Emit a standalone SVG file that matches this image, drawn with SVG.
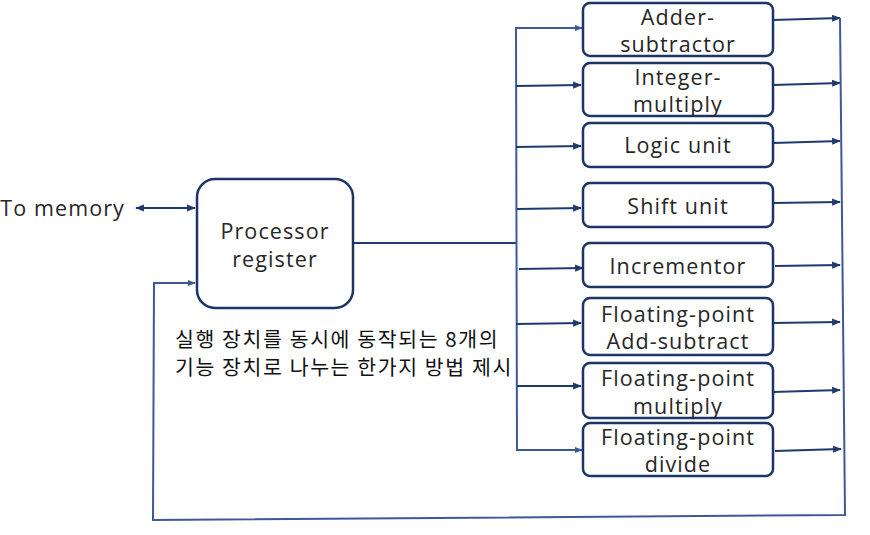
<svg xmlns="http://www.w3.org/2000/svg" width="870" height="535" viewBox="0 0 870 535">
<defs>
<marker id="ah" viewBox="0 0 10 10" refX="9" refY="5" markerWidth="4" markerHeight="4" orient="auto-start-reverse" markerUnits="strokeWidth">
<path d="M0,1 L10,5 L0,9 z" fill="#1f3a6e"/>
</marker>
<marker id="ah2" viewBox="0 0 10 10" refX="9" refY="5" markerWidth="4" markerHeight="4" orient="auto" markerUnits="strokeWidth">
<path d="M0,1 L10,5 L0,9 z" fill="#3b5a98"/>
</marker>
</defs>
<style>
.box{fill:#fff;stroke:#1c3466;stroke-width:2.5}
.t{font-family:"Open Sans","Liberation Sans",sans-serif;font-size:21.5px;letter-spacing:1.1px;fill:#262626;text-anchor:middle}
.c{fill:none;stroke:#1f3a6e;stroke-width:2.2}
.f{fill:none;stroke:#3b5a98;stroke-width:2}
.k{font-family:"Noto Sans CJK KR","Noto Sans",sans-serif;font-size:20.5px;letter-spacing:1.6px;fill:#111}
</style>
<rect width="870" height="535" fill="#fff"/>
<g id="connectors">
<line class="c" x1="136" y1="208" x2="195" y2="208" marker-start="url(#ah)" marker-end="url(#ah)"/>
<line class="c" x1="353" y1="243" x2="517" y2="243"/>
<path class="f" d="M516,28 L517,450 L582,450" marker-end="url(#ah2)"/>
<line class="f" x1="515" y1="28" x2="582" y2="28" marker-end="url(#ah2)"/>
<line class="c" x1="516" y1="86" x2="581" y2="85" marker-end="url(#ah)"/>
<line class="c" x1="516" y1="147" x2="581" y2="146" marker-end="url(#ah)"/>
<line class="c" x1="517" y1="209" x2="581" y2="208" marker-end="url(#ah)"/>
<line class="c" x1="519" y1="269" x2="583" y2="268" marker-end="url(#ah)"/>
<line class="c" x1="516" y1="324" x2="581" y2="323" marker-end="url(#ah)"/>
<line class="c" x1="517" y1="386" x2="581" y2="386" marker-end="url(#ah)"/>
<line class="c" x1="773" y1="20" x2="840" y2="18" marker-end="url(#ah)"/>
<line class="c" x1="773" y1="85" x2="840" y2="83" marker-end="url(#ah)"/>
<line class="c" x1="773" y1="143" x2="840" y2="141" marker-end="url(#ah)"/>
<line class="c" x1="773" y1="203" x2="840" y2="202" marker-end="url(#ah)"/>
<line class="c" x1="775" y1="266" x2="840" y2="265" marker-end="url(#ah)"/>
<line class="c" x1="773" y1="323" x2="840" y2="322" marker-end="url(#ah)"/>
<line class="c" x1="773" y1="392" x2="840" y2="390" marker-end="url(#ah)"/>
<line class="c" x1="775" y1="451" x2="841" y2="449" marker-end="url(#ah)"/>
<path class="f" d="M840,18 L845,515 L153,520 L154,283 L195,283" marker-end="url(#ah2)"/>
</g>
<g id="to-memory"><text class="t" x="125" y="216" style="text-anchor:end">To memory</text></g>
<g id="processor-register">
<rect class="box" x="197" y="179" width="156" height="129" rx="18"/>
<text class="t" x="275" y="239">Processor</text>
<text class="t" x="275" y="267">register</text>
</g>
<g id="adder-subtractor">
<rect class="box" x="583" y="3" width="190" height="53" rx="7"/>
<text class="t" x="678" y="25">Adder-</text>
<text class="t" x="678" y="52">subtractor</text>
</g>
<g id="integer-multiply">
<rect class="box" x="583" y="63" width="190" height="53" rx="7"/>
<text class="t" x="678" y="85">Integer-</text>
<text class="t" x="678" y="112">multiply</text>
</g>
<g id="logic-unit">
<rect class="box" x="583" y="123" width="190" height="44" rx="7"/>
<text class="t" x="678" y="153">Logic unit</text>
</g>
<g id="shift-unit">
<rect class="box" x="583" y="183" width="190" height="44" rx="7"/>
<text class="t" x="678" y="214">Shift unit</text>
</g>
<g id="incrementor">
<rect class="box" x="583" y="243" width="190" height="44" rx="7"/>
<text class="t" x="678" y="274">Incrementor</text>
</g>
<g id="fp-add-subtract">
<rect class="box" x="583" y="298" width="190" height="57" rx="7"/>
<text class="t" x="678" y="322">Floating-point</text>
<text class="t" x="678" y="349">Add-subtract</text>
</g>
<g id="fp-multiply">
<rect class="box" x="583" y="363" width="190" height="55" rx="7"/>
<text class="t" x="678" y="386">Floating-point</text>
<text class="t" x="678" y="414">multiply</text>
</g>
<g id="fp-divide">
<rect class="box" x="583" y="423" width="190" height="53" rx="7"/>
<text class="t" x="678" y="445">Floating-point</text>
<text class="t" x="678" y="472">divide</text>
</g>
<g id="caption">
<text class="k" x="175" y="347">실행 장치를 동시에 동작되는 8개의</text>
<text class="k" x="175" y="375">기능 장치로 나누는 한가지 방법 제시</text>
</g>
</svg>
